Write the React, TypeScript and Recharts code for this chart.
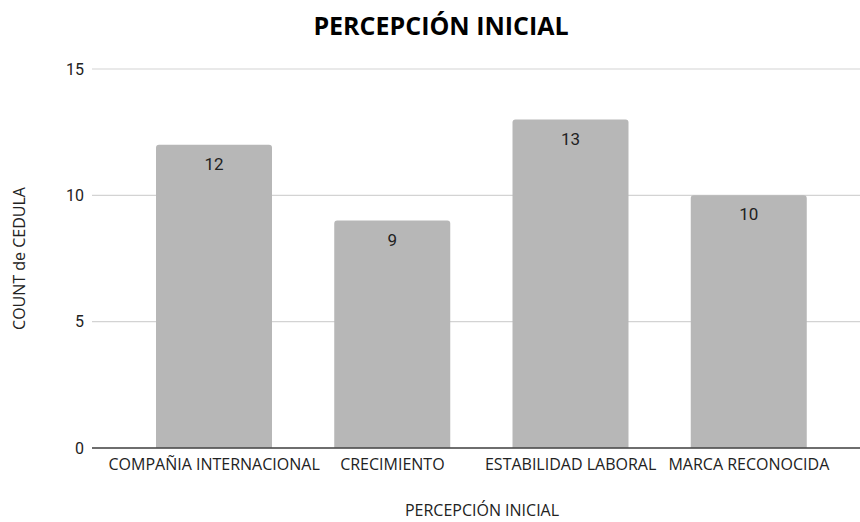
import React from "react";
import { BarChart, Bar, XAxis, YAxis, CartesianGrid, LabelList } from "recharts";

const categories = ["COMPAÑIA INTERNACIONAL", "CRECIMIENTO", "ESTABILIDAD LABORAL", "MARCA RECONOCIDA"];
const counts = [12, 9, 13, 10];
const yTicks = [0, 5, 10, 15];

const data = categories.map((c, i) => ({ name: c, value: counts[i] }));

export default function App() {
  return (
    <div style={{ position: "absolute", left: 0, top: 0, width: 860, height: 522, background: "#fff" }}>
      <div
        style={{
          position: "absolute",
          left: 0,
          top: 8,
          width: 882,
          textAlign: "center",
          fontFamily: "'Liberation Sans Narrow', 'Open Sans', sans-serif",
          fontWeight: 700,
          fontSize: 25,
          color: "#000",
          lineHeight: "34px",
        }}
      >
        PERCEPCIÓN INICIAL
      </div>
      <BarChart
        width={860}
        height={522}
        data={data}
        margin={{ top: 69, right: 0, bottom: 4, left: 0 }}
      >
        <CartesianGrid vertical={false} stroke="#d3d3d3" strokeWidth={1.2} />
        <XAxis
          dataKey="name"
          height={70}
          tickLine={false}
          axisLine={{ stroke: "#444", strokeWidth: 1.5 }}
          padding={{ left: 33, right: 22 }}
          interval={0}
          tick={{ fill: "#222", fontSize: 16, fontFamily: "'Open Sans', sans-serif" }}
          tickMargin={5}
          label={{
            value: "PERCEPCIÓN INICIAL",
            position: "insideBottom",
            offset: 2,
            dx: 6,
            fill: "#222",
            fontSize: 16,
            fontFamily: "'Open Sans', sans-serif",
          }}
        />
        <YAxis
          width={92}
          domain={[0, 15]}
          ticks={yTicks}
          tickLine={false}
          axisLine={false}
          tick={{ fill: "#222", fontSize: 16, fontFamily: "'Roboto', sans-serif" }}
          label={{
            value: "COUNT de CEDULA",
            angle: -90,
            position: "center",
            dx: -27,
            fill: "#222",
            fontSize: 16,
            fontFamily: "'Open Sans', sans-serif",
          }}
        />
        <Bar dataKey="value" fill="#b7b7b7" barSize={116} radius={[3, 3, 0, 0]} isAnimationActive={false}>
          <LabelList
            dataKey="value"
            position="insideTop"
            offset={13}
            fill="#222"
            fontSize={17}
            fontFamily="'Roboto', sans-serif"
          />
        </Bar>
      </BarChart>
    </div>
  );
}
